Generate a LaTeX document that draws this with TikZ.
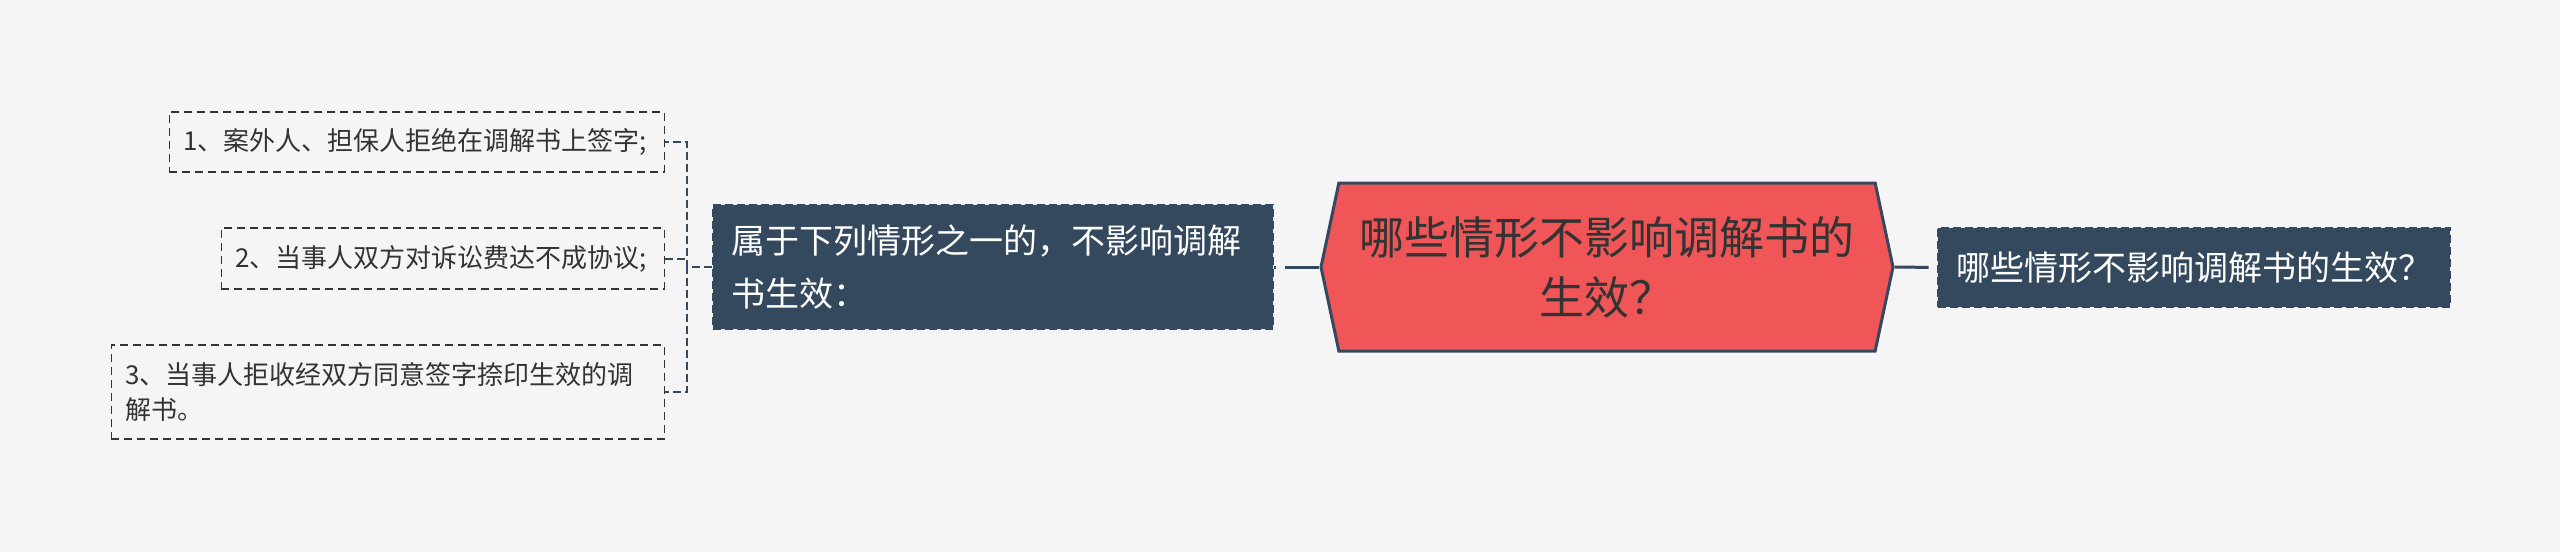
\documentclass[tikz,border=0pt]{standalone}
\usepackage{fontspec}
\setmainfont{Noto Sans CJK SC}
\usetikzlibrary{shapes.symbols}
\definecolor{bgc}{HTML}{F5F5F5}
\definecolor{navy}{HTML}{34495E}
\definecolor{coral}{HTML}{F05558}
\definecolor{ink}{HTML}{333333}
\tikzset{
  leaf/.style={draw=ink, fill=bgc, dash pattern=on 8pt off 5pt, line width=1.5pt, text=ink,
    anchor=east, align=left, inner xsep=14pt, inner ysep=0pt, font=\fontsize{26pt}{35pt}\selectfont},
  topic/.style={fill=navy, draw=navy, dash pattern=on 8pt off 4pt, line width=1.5pt, text=white,
    align=left, inner xsep=18pt, inner ysep=0pt, font=\fontsize{34pt}{53pt}\selectfont},
  hub/.style={signal, signal to=west and east, signal pointer angle=156, fill=coral, draw=navy,
    line width=3pt, text=ink, align=center, inner sep=0pt, minimum width=572pt, minimum height=168pt,
    font=\fontsize{45pt}{60pt}\selectfont},
  link/.style={draw=navy, line width=2pt, dash pattern=on 8pt off 4pt},
  hublink/.style={draw=navy, line width=3pt, dash pattern=on 34pt off 9pt}
}
\begin{document}
\begin{tikzpicture}[x=1pt,y=-1pt]
\useasboundingbox[fill=bgc] (0,0) rectangle (2560,552);
\node[hub] (hub) at (1607,267) {哪些情形不影响调解书的\\生效？};
\node[topic, minimum width=560pt, minimum height=124pt, text width=524pt] (cond) at (993,267)
  {属于下列情形之一的，不影响调解\\书生效：};
\node[topic, minimum width=508pt, minimum height=79pt] (ques) at (2194,267.5) {哪些情形不影响调解书的生效？};
\foreach \k/\y/\w/\h/\txt in {1/142/495/60/{1、案外人、担保人拒绝在调解书上签字;},
    2/258.5/443/61/{2、当事人双方对诉讼费达不成协议;},
    3/392/553/94/{3、当事人拒收经双方同意签字捺印生效的调\\解书。}}
   \node[leaf, text width=\w pt-28pt, minimum height=\h pt] (leaf\k) at (665,\y) {\txt};
\draw[hublink] (hub.west) -- (cond.east);
\draw[hublink] (hub.east) -- (ques.west);
\foreach \k in {1,2,3}
   \draw[link] (cond.west) -- ++(-25,0) |- (leaf\k.east);
\end{tikzpicture}
\end{document}
